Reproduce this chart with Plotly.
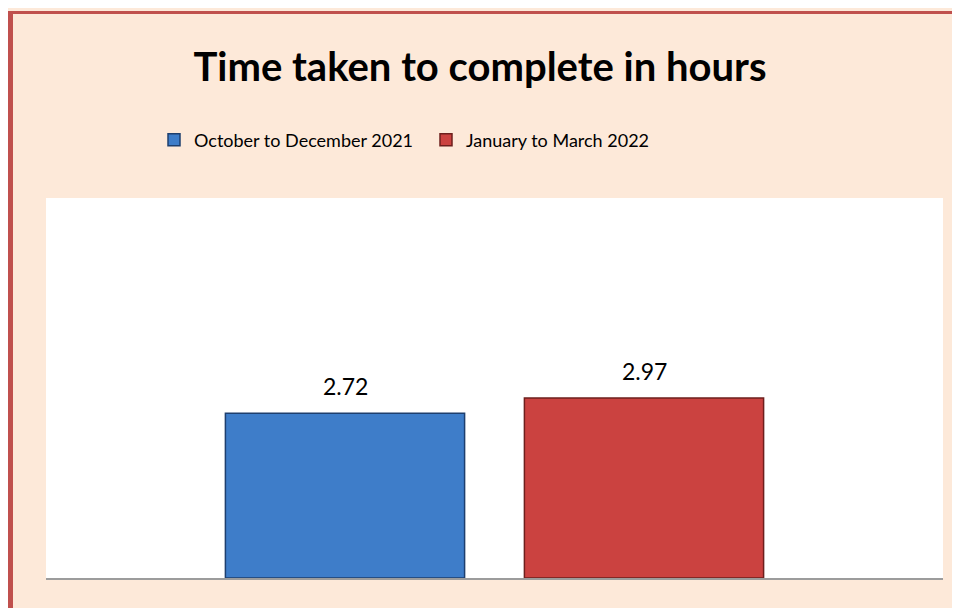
import plotly.graph_objects as go

series_names = ["October to December 2021", "January to March 2022"]
values = [2.72, 2.97]
value_labels = ["2.72", "2.97"]
colors = ["#3E7DC9", "#CB4240"]
edge_colors = ["#1E3F6E", "#6E1F1D"]
title_text = "Time taken to complete in hours"

W, H = 960, 608
L, R, T, B = 38, 25, 190, 38
PW, PH = W - L - R, H - T - B

fig = go.Figure()
for name, v, c, ec in zip(series_names, values, colors, edge_colors):
    fig.add_trace(go.Bar(
        x=[name], y=[v], name=name, width=0.8,
        marker=dict(color=c, line=dict(color=ec, width=1.5)),
        hoverinfo="skip",
    ))

for name, v, lab in zip(series_names, values, value_labels):
    fig.add_annotation(x=name, y=v, text=lab, showarrow=False, xref="x", yref="y",
                       yanchor="middle", yshift=27,
                       font=dict(family="Lato", size=23, color="#000000"))

def px_x(p):
    return (p - L) / PW

def px_y(p):
    return (T + PH - p) / PH

border = "#C0504D"
fig.update_layout(
    width=W, height=H,
    paper_bgcolor="#FDE9D9", plot_bgcolor="#FFFFFF",
    margin=dict(l=L, r=R, t=T, b=B),
    barmode="overlay",
    showlegend=True,
    title=dict(text="<b>" + title_text + "</b>", x=472 / W, xref="container", xanchor="center",
               y=1 - 59 / H, yref="container", yanchor="middle",
               font=dict(family="Lato", size=40, color="#000000")),
    legend=dict(orientation="h", x=0.5 - 68.5 / PW, xanchor="center", y=px_y(132), yanchor="middle",
                font=dict(family="Lato", size=18, color="#000000"),
                entrywidth=227, entrywidthmode="pixels",
                bgcolor="rgba(0,0,0,0)", itemclick=False, itemdoubleclick=False),
    xaxis=dict(showticklabels=False, showgrid=False, zeroline=False, ticks="",
               showline=True, linecolor="#9C9C9C", linewidth=2, range=[-1.0, 2.0]),
    yaxis=dict(visible=False, range=[0, 6.27], showgrid=False, zeroline=False),
    shapes=[
        dict(type="line", xref="paper", yref="paper",
             x0=px_x(2.5), x1=px_x(2.5), y0=px_y(H - 1), y1=px_y(3),
             line=dict(color=border, width=5), layer="above"),
        dict(type="line", xref="paper", yref="paper",
             x0=px_x(0), x1=px_x(W - 1), y0=px_y(4.5), y1=px_y(4.5),
             line=dict(color=border, width=3), layer="above"),
    ],
)

fig.write_html("out.html")
